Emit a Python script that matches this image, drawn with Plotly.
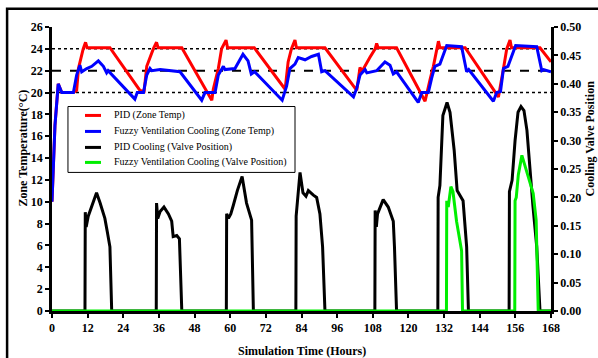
import plotly.graph_objects as go

# ---------------- data ----------------
pid_temp_t = [0, 1, 2.1, 3.3, 7.2, 8.3, 8.9, 10.5, 11.3, 11.8, 19.5, 29.6, 31.0, 31.9, 34.1, 35.2, 35.7,
              43.7, 53.8, 54.3, 56.0, 57.1, 58.6, 59.1, 68.1, 78.5, 79.5, 80.6, 81.8, 82.3, 91.9,
              102.6, 103.7, 104.3, 107.0, 108.8, 109.3, 109.8, 116.0, 125.6, 127.3, 128.4, 130.1, 130.6,
              139.1, 150.3, 152.0, 153.1, 154.2, 154.7, 164.3, 168]
pid_temp_v = [10, 17, 20.8, 20.0, 20.0, 20.2, 22.2, 24.0, 24.6, 24.1, 24.1, 20.2, 20.1, 22.4, 24.0, 24.6, 24.1,
              24.1, 19.3, 20.3, 22.2, 24.0, 24.8, 24.1, 24.1, 20.3, 22.8, 24.0, 24.8, 24.1, 24.1,
              20.2, 22.3, 21.9, 23.2, 24.0, 24.5, 24.1, 24.1, 19.2, 21.2, 22.4, 24.7, 24.1,
              24.1, 19.6, 22.2, 24.0, 24.8, 24.1, 24.1, 22.8]

fuzzy_temp_t = [0, 1, 2.1, 3.3, 7.2, 8.3, 9.4, 10.0, 11.7, 13.4, 15.6, 17.3, 18.4, 18.9, 27.9, 28.7, 30.8,
                31.9, 33.0, 33.6, 36.4, 40.8, 43.1, 50.4, 51.5, 54.9, 56.0, 57.7, 58.2, 61.6, 64.3, 66.0,
                67.1, 68.2, 77.5, 79.0, 80.1, 81.8, 82.9, 85.2, 87.4, 89.7, 90.8, 91.9, 101.5, 102.6,
                103.7, 105.4, 106.0, 109.3, 112.1, 113.8, 114.9, 116.0, 123.3, 124.5, 126.7, 127.8,
                128.9, 130.6, 132.9, 137.9, 139.6, 140.3, 148.6, 149.7, 151.0, 152.0, 153.5, 156.1,
                163.2, 164.9, 165.5, 168]
fuzzy_temp_v = [10, 17, 20.8, 20.0, 20.0, 21.6, 22.5, 21.9, 22.2, 22.4, 22.9, 22.4, 21.8, 22.0, 19.4, 20.0, 20.0,
                21.6, 22.2, 22.0, 22.1, 22.0, 21.9, 19.3, 20.0, 20.0, 21.6, 22.4, 22.1, 22.2, 23.5, 22.9,
                21.7, 21.9, 19.3, 20.6, 22.2, 22.6, 23.2, 23.0, 23.3, 23.5, 21.9, 22.0, 19.6, 20.4,
                21.6, 22.1, 21.8, 22.0, 22.8, 22.5, 21.7, 21.9, 19.1, 20.0, 20.0, 21.3,
                22.4, 22.6, 24.3, 24.2, 21.9, 22.1, 19.2, 20.0, 20.1, 22.2, 22.4, 24.3,
                24.2, 22.0, 22.1, 21.9]

pid_valve_t = [0, 11.1, 11.2, 11.5, 12.2, 13.7, 15.0, 16.2, 17.8, 18.6, 19.5, 20.1,
               35.1, 35.2, 35.6, 36.4, 37.7, 39.2, 40.3, 40.8, 42.0, 42.9, 43.7,
               58.7, 58.8, 59.4, 60.2, 61.1, 62.4, 64.0, 65.5, 67.2, 67.8,
               82.1, 82.2, 83.5, 84.5, 85.5, 86.3, 88.0, 89.1, 90.2, 91.1, 91.9,
               108.7, 108.8, 109.2, 109.6, 111.5, 113.2, 114.9, 115.3, 116.0,
               129.9, 130.0, 130.6, 131.6, 133.0, 134.0, 135.4, 136.4, 138.4, 139.6, 140.2,
               153.9, 154.0, 154.9, 155.9, 156.9, 157.9, 158.9, 159.9, 160.9, 161.9, 163.2, 164.3, 168]
pid_valve_v = [0, 0, 0.174, 0.148, 0.167, 0.190, 0.208, 0.190, 0.163, 0.140, 0.113, 0,
               0, 0.190, 0.163, 0.175, 0.183, 0.171, 0.158, 0.131, 0.133, 0.127, 0,
               0, 0.171, 0.163, 0.171, 0.187, 0.212, 0.237, 0.190, 0.160, 0,
               0, 0.167, 0.244, 0.208, 0.202, 0.212, 0.204, 0.200, 0.171, 0.113, 0,
               0, 0.177, 0.148, 0.171, 0.196, 0.183, 0.158, 0.113, 0,
               0, 0.200, 0.221, 0.344, 0.367, 0.350, 0.283, 0.212, 0.194, 0.113, 0,
               0, 0.210, 0.230, 0.300, 0.350, 0.360, 0.353, 0.318, 0.248, 0.186, 0.113, 0, 0]

fuzzy_valve_t = [0, 132.8, 132.9, 133.4, 134.3, 135.0, 136.2, 137.9, 138.2,
                 155.8, 155.9, 156.3, 157.0, 158.2, 159.0, 160.5, 162.0, 163.0, 163.7, 168]
fuzzy_valve_v = [0, 0, 0.194, 0.183, 0.219, 0.210, 0.158, 0.106, 0,
                 0, 0.194, 0.200, 0.240, 0.274, 0.260, 0.235, 0.207, 0.160, 0, 0]

x_ticks = list(range(0, 169, 12))
y_ticks = list(range(0, 27, 2))
y2_ticks = [0.00, 0.05, 0.10, 0.15, 0.20, 0.25, 0.30, 0.35, 0.40, 0.45, 0.50]
ref_lines = [(24, "dot"), (22, "dash"), (20, "dot")]

series_names = ["PID (Zone Temp)", "Fuzzy Ventilation Cooling (Zone Temp)",
                "PID Cooling (Valve Position)", "Fuzzy Ventilation Cooling (Valve Position)"]
series_colors = ["#ff0000", "#0000ff", "#000000", "#00ee00"]

# ---------------- figure ----------------
FONT = "Liberation Serif"
fig = go.Figure()
series = [(pid_temp_t, pid_temp_v, "y"), (fuzzy_temp_t, fuzzy_temp_v, "y"),
          (pid_valve_t, pid_valve_v, "y2"), (fuzzy_valve_t, fuzzy_valve_v, "y2")]
for (xs, ys, ax), name, col in zip(series, series_names, series_colors):
    fig.add_trace(go.Scatter(x=xs, y=ys, mode="lines", name=name, yaxis=ax,
                             line=dict(color=col, width=3), showlegend=False))

shapes = []
for val, dash in ref_lines:
    shapes.append(dict(type="line", xref="x", yref="y", x0=0, x1=168, y0=val, y1=val,
                       line=dict(color="black", width=1.5 if dash == "dot" else 2, dash=dash), layer="below"))
# outer frame
shapes.append(dict(type="rect", xref="paper", yref="paper", x0=-0.090, x1=1.3, y0=-0.6, y1=1.064,
                   line=dict(color="black", width=2.5), layer="below"))

# legend box (manual, to match the compact spacing)
shapes.append(dict(type="rect", xref="paper", yref="paper", x0=0.032, x1=0.487, y0=0.488, y1=0.720,
                   line=dict(color="black", width=1), fillcolor="white", layer="above"))
entry_y = [0.6886, 0.6323, 0.5760, 0.5232]
annotations = []
for yv, name, col in zip(entry_y, series_names, series_colors):
    shapes.append(dict(type="line", xref="paper", yref="paper", x0=0.0661, x1=0.0982, y0=yv, y1=yv,
                       line=dict(color=col, width=3), layer="above"))
    annotations.append(dict(text=name, xref="paper", yref="paper", x=0.1202, y=yv, xanchor="left",
                            yanchor="middle", showarrow=False,
                            font=dict(family=FONT, size=10, color="black")))

axis_common = dict(showline=True, linecolor="black", linewidth=2.5, ticks="outside", ticklen=4,
                   tickwidth=1.5, tickcolor="black", showgrid=False, zeroline=False,
                   tickfont=dict(family=FONT, size=12, color="black", weight="bold"))

annotations += [
    dict(text="Simulation Time (Hours)", xref="paper", yref="paper", x=0.5, y=-0.142,
         xanchor="center", yanchor="middle", showarrow=False,
         font=dict(family=FONT, size=12, color="black", weight="bold")),
    dict(text="Zone Temperature(°C)", xref="paper", yref="paper", x=-0.060, y=0.572, textangle=-90,
         xanchor="center", yanchor="middle", showarrow=False,
         font=dict(family=FONT, size=12, color="black", weight="bold")),
    dict(text="Cooling Valve Position", xref="paper", yref="paper", x=1.078, y=0.607, textangle=-90,
         xanchor="center", yanchor="middle", showarrow=False,
         font=dict(family=FONT, size=12, color="black", weight="bold")),
]

fig.update_layout(
    width=598, height=358,
    margin=dict(l=52, r=47, t=27, b=47),
    paper_bgcolor="white", plot_bgcolor="white",
    showlegend=False,
    xaxis=dict(range=[0, 168], tickvals=x_ticks, **axis_common),
    yaxis=dict(range=[0, 26], tickvals=y_ticks, **axis_common),
    yaxis2=dict(range=[0, 0.5], tickvals=y2_ticks, tickformat=".2f", overlaying="y", side="right",
                **axis_common),
    shapes=shapes,
    annotations=annotations,
)

fig.write_html("out.html")
